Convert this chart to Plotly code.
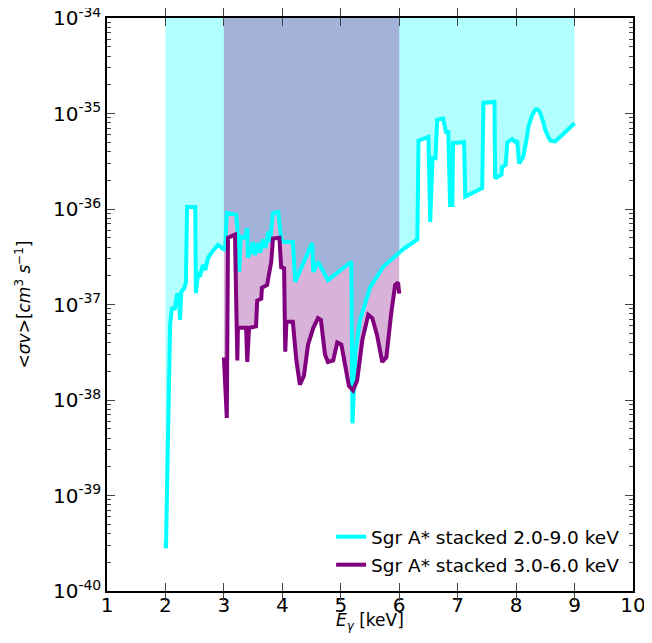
import plotly.graph_objects as go

# Sgr A* stacked 2.0-9.0 keV (cyan)
E_cyan = [2.00, 2.01, 2.03, 2.08, 2.11, 2.16, 2.20, 2.23, 2.25, 2.27, 2.32, 2.35, 2.37, 2.51,
          2.52, 2.56, 2.59, 2.64, 2.68, 2.73, 2.82, 2.90, 2.97, 3.02, 3.05, 3.21, 3.24, 3.26,
          3.29, 3.36, 3.40, 3.41, 3.47, 3.50, 3.53, 3.59, 3.62, 3.67, 3.71, 3.76, 3.79, 3.84,
          3.93, 3.98, 4.03, 4.18, 4.22, 4.51, 4.53, 4.61, 4.78, 5.18, 5.20, 5.25, 5.33, 5.50,
          5.73, 6.07, 6.31, 6.33, 6.50, 6.53, 6.57, 6.62, 6.65, 6.75, 6.80, 6.84, 6.87, 6.91,
          6.92, 7.11, 7.13, 7.42, 7.44, 7.63, 7.64, 7.75, 7.76, 7.82, 7.85, 7.93, 7.99, 8.02,
          8.05, 8.12, 8.17, 8.21, 8.27, 8.33, 8.37, 8.41, 8.46, 8.50, 8.55, 8.59, 8.67, 9.00]
S_cyan = [3.2e-40, 2.8e-40, 1.45e-39, 6.2e-38, 9.1e-38, 9.1e-38, 1.26e-37, 1.26e-37, 6.9e-38,
          1.35e-37, 1.48e-37, 1.7e-37, 1.05e-36, 1.05e-36, 1.32e-37, 2.2e-37, 1.95e-37, 2.6e-37,
          2.3e-37, 3.1e-37, 3.7e-37, 4.2e-37, 3.9e-37, 3.7e-37, 9.1e-37, 8.7e-37, 5.2e-37,
          2.2e-37, 5.1e-37, 5.0e-37, 6.3e-37, 3.1e-37, 3.7e-37, 4.5e-37, 3.3e-37, 4.4e-37,
          3.5e-37, 4.8e-37, 3.9e-37, 5.8e-37, 4.5e-37, 9.1e-37, 9.3e-37, 4.8e-37, 4.5e-37,
          4.5e-37, 1.73e-37, 4.4e-37, 2.2e-37, 2.8e-37, 1.8e-37, 2.8e-37, 5.7e-39, 3.1e-38,
          6.9e-38, 1.5e-37, 2.5e-37, 3.8e-37, 4.8e-37, 5.2e-36, 5.7e-36, 7.3e-37, 3.4e-36,
          3.4e-36, 8.6e-36, 8.9e-36, 6.4e-36, 6.4e-36, 1.1e-36, 1.1e-36, 4.9e-36, 5.0e-36,
          1.35e-36, 1.66e-36, 1.29e-35, 1.32e-35, 2.1e-36, 2.3e-36, 2.75e-36, 2.9e-36, 5.0e-36,
          5.4e-36, 5.0e-36, 5.2e-36, 3.0e-36, 3.5e-36, 5.0e-36, 7.2e-36, 9.5e-36, 1.1e-35,
          1.1e-35, 1.02e-35, 8.3e-36, 6.7e-36, 5.7e-36, 5.2e-36, 5.1e-36, 7.9e-36]

# Sgr A* stacked 3.0-6.0 keV (purple)
E_purple = [3.00, 3.04, 3.05, 3.07, 3.19, 3.23, 3.24, 3.38, 3.40, 3.43, 3.55, 3.57, 3.64, 3.65,
            3.74, 3.76, 3.81, 3.84, 3.95, 3.98, 4.03, 4.05, 4.07, 4.18, 4.24, 4.30, 4.37, 4.44,
            4.53, 4.61, 4.66, 4.73, 4.78, 4.87, 4.94, 5.01, 5.08, 5.14, 5.21, 5.28, 5.37, 5.47,
            5.54, 5.62, 5.71, 5.78, 5.86, 5.93, 5.98, 6.00]
S_purple = [2.8e-38, 6.5e-39, 6.5e-39, 5.0e-37, 5.4e-37, 2.6e-38, 5.7e-38, 5.7e-38, 2.5e-38,
            5.7e-38, 5.9e-38, 1.1e-37, 1.15e-37, 1.5e-37, 1.6e-37, 1.9e-37, 2.8e-37, 4.9e-37,
            5.0e-37, 2.45e-37, 2.4e-37, 3.2e-38, 6.6e-38, 6.6e-38, 2.6e-38, 1.45e-38, 1.8e-38,
            3.8e-38, 5.7e-38, 7.2e-38, 6.9e-38, 3.0e-38, 2.5e-38, 2.6e-38, 4.0e-38, 3.8e-38,
            2.3e-38, 1.4e-38, 1.26e-38, 1.6e-38, 4.3e-38, 7.8e-38, 7.2e-38, 4.8e-38, 2.5e-38,
            2.8e-38, 7.8e-38, 1.6e-37, 1.7e-37, 1.3e-37]

Y_TOP = 1e-34
names = ["Sgr A* stacked 2.0-9.0 keV", "Sgr A* stacked 3.0-6.0 keV"]
y_exps = [-34, -35, -36, -37, -38, -39, -40]
x_ticks = [1, 2, 3, 4, 5, 6, 7, 8, 9, 10]

CYAN = "#00ffff"
PURPLE = "#800080"

fig = go.Figure()
# cyan fill (to top)
fig.add_trace(go.Scatter(x=E_cyan, y=[Y_TOP] * len(E_cyan), mode="lines",
                         line=dict(width=0), showlegend=False, hoverinfo="skip"))
fig.add_trace(go.Scatter(x=E_cyan, y=S_cyan, mode="lines", line=dict(width=0),
                         fill="tonexty", fillcolor="rgba(0,255,255,0.3)",
                         showlegend=False, hoverinfo="skip"))
# purple fill (to top)
fig.add_trace(go.Scatter(x=E_purple, y=[Y_TOP] * len(E_purple), mode="lines",
                         line=dict(width=0), showlegend=False, hoverinfo="skip"))
fig.add_trace(go.Scatter(x=E_purple, y=S_purple, mode="lines", line=dict(width=0),
                         fill="tonexty", fillcolor="rgba(128,0,128,0.3)",
                         showlegend=False, hoverinfo="skip"))
# lines
fig.add_trace(go.Scatter(x=E_cyan, y=S_cyan, mode="lines", name=names[0],
                         line=dict(color=CYAN, width=4), legendgroup="a"))
fig.add_trace(go.Scatter(x=E_purple, y=S_purple, mode="lines", name=names[1],
                         line=dict(color=PURPLE, width=4), legendgroup="b"))
# invisible carrier so the minor-tick axis is drawn
fig.add_trace(go.Scatter(x=[E_cyan[-1]], y=[S_cyan[-1]], yaxis="y2", mode="markers",
                         marker=dict(opacity=0), showlegend=False, hoverinfo="skip"))

minor_vals = [m * 10.0 ** e for e in range(-40, -34) for m in range(2, 10)]

# page body has an 8px margin, so the figure sits at (8, 8)
fig.update_layout(
    width=636, height=627,
    margin=dict(l=99, r=11, t=10, b=44),
    paper_bgcolor="white", plot_bgcolor="white",
    font=dict(family="DejaVu Sans", color="black", size=20),
    showlegend=True,
    legend=dict(x=0.985, y=0.012, xanchor="right", yanchor="bottom",
                bgcolor="rgba(0,0,0,0)", font=dict(size=18.5), tracegroupgap=1),
    xaxis=dict(range=[1, 10], tickvals=x_ticks, ticks="inside", ticklen=8,
               showline=True, linecolor="black", linewidth=1.5, mirror="allticks",
               showgrid=False, zeroline=False, tickfont=dict(size=20), automargin=False,
               ticklabeloverflow="allow", ticklabelstandoff=-5),
    yaxis=dict(type="log", range=[-40, -34],
               tickvals=[10.0 ** e for e in y_exps],
               ticktext=["10<sup>%d</sup>" % e for e in y_exps],
               ticks="inside", ticklen=8,
               showline=True, linecolor="black", linewidth=1.5, mirror="allticks",
               showgrid=False, zeroline=False, tickfont=dict(size=20), automargin=False,
               ticklabeloverflow="allow",
               title=dict(text="&lt;<i>σv</i>&gt;[<i>cm</i><sup>3</sup> <i>s</i><sup>−1</sup>]",
                          font=dict(size=17), standoff=18)),
    yaxis2=dict(type="log", range=[-40, -34], overlaying="y", side="left",
                tickvals=minor_vals, showticklabels=False, ticks="inside", ticklen=4,
                showline=True, linecolor="black", linewidth=1.5, mirror="allticks",
                showgrid=False, zeroline=False, automargin=False),
    annotations=[dict(text="<i>E<sub>γ</sub></i> [keV]", xref="paper", yref="paper",
                      x=0.5, y=-44 / 573, xanchor="center", yanchor="bottom",
                      showarrow=False, font=dict(size=17))],
)

fig.write_html("out.html")
